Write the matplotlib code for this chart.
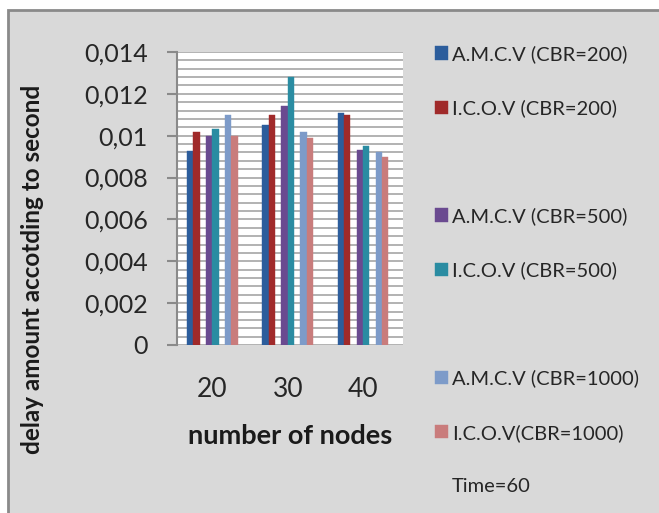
"""
Delay per node count for A.M.C.V and I.C.O.V at three CBR rates (Time=60).
"""

import matplotlib
matplotlib.use("Agg")
import matplotlib.pyplot as plt
from matplotlib.patches import Patch, Rectangle
from matplotlib.ticker import MultipleLocator, FuncFormatter

plt.rcParams["font.family"] = ["Lato", "DejaVu Sans"]

nodes = ["20", "30", "40"]
series_names = [
    "A.M.C.V (CBR=200)",
    "I.C.O.V (CBR=200)",
    "A.M.C.V (CBR=500)",
    "I.C.O.V (CBR=500)",
    "A.M.C.V (CBR=1000)",
    "I.C.O.V(CBR=1000)",
]
amcv_200 = [0.00925, 0.0105, 0.0111]
icov_200 = [0.0102, 0.0110, 0.0110]
amcv_500 = [0.0100, 0.0114, 0.0093]
icov_500 = [0.0103, 0.0128, 0.0095]
amcv_1000 = [0.0110, 0.0102, 0.0092]
icov_1000 = [0.0100, 0.0099, 0.0090]
series_values = [amcv_200, icov_200, amcv_500, icov_500, amcv_1000, icov_1000]
colors = ["#2c5d9c", "#a02a2a", "#6a4a90", "#2a8ca2", "#7d9bc9", "#c97c7c"]
note = "Time=60"

fig = plt.figure(figsize=(6.59, 5.13), dpi=100)
fig.patch.set_facecolor("white")
# grey chart area with a thin frame on the top and left
fig.patches.append(Rectangle((8 / 659, -0.02), 1.0, 503 / 513 + 0.02,
                             transform=fig.transFigure, facecolor="#d9d9d9",
                             edgecolor="#8a8a8a", linewidth=2, zorder=-5))

ax = fig.add_axes([177 / 659, 168 / 513, 226 / 659, 293 / 513])
ax.set_zorder(2)
ax.set_facecolor("white")

w = 0.084
slots = [-3.5, -2.5, -0.5, 0.5, 2.5, 3.5]
x = list(range(len(nodes)))
handles = []
for vals, col, s, name in zip(series_values, colors, slots, series_names):
    b = ax.bar([xi + s * w for xi in x], vals, width=w, color=col,
               edgecolor=col, linewidth=0.3, zorder=3, label=name)
    handles.append(b)

ax.set_xlim(-0.47, 2.53)
ax.set_ylim(0, 0.014)
ax.yaxis.set_major_locator(MultipleLocator(0.002))
ax.yaxis.set_minor_locator(MultipleLocator(0.0004))
ax.yaxis.set_major_formatter(FuncFormatter(
    lambda v, _: "0" if abs(v) < 1e-12 else f"{v:.3f}".rstrip("0").replace(".", ",")))
ax.grid(True, which="both", axis="y", color="#a6a6a6", linewidth=1.2, zorder=1)
ax.tick_params(axis="y", which="major", direction="out", length=7,
               width=1.5, color="#8a8a8a", labelsize=18, pad=14, labelcolor="#262626")
ax.tick_params(axis="y", which="minor", length=0)
ax.tick_params(axis="x", length=0, labelsize=19, pad=23, labelcolor="#262626")
ax.set_xticks(x)
ax.set_xticklabels(nodes)
for side in ["top", "right", "bottom"]:
    ax.spines[side].set_visible(False)
ax.spines["left"].set_color("#8a8a8a")
ax.spines["left"].set_linewidth(1.5)

ax.set_xlabel("number of nodes", fontsize=19.5, fontweight="bold", labelpad=16,
              color="#1a1a1a")
fig.text(33 / 659, 1 - 269 / 513, "delay amount accotding to second", rotation=90,
         fontsize=17.5, fontweight="bold", ha="center", va="center", color="#1a1a1a")

blank = Patch(facecolor="none", edgecolor="none")
leg_handles = [handles[0], handles[1], blank, handles[2], handles[3], blank,
               handles[4], handles[5], blank]
leg_labels = [series_names[0], series_names[1], "", series_names[2], series_names[3],
              "", series_names[4], series_names[5], note]
leg = fig.legend(leg_handles, leg_labels, loc="upper left",
                 bbox_to_anchor=(425 / 659, 1 - 35 / 513), frameon=False,
                 fontsize=14.5, handlelength=0.65, handleheight=0.65,
                 handletextpad=0.2, labelspacing=1.81, borderpad=0)
for t in leg.get_texts():
    t.set_color("#262626")

fig.savefig("out.png", dpi=100, facecolor=fig.get_facecolor())
